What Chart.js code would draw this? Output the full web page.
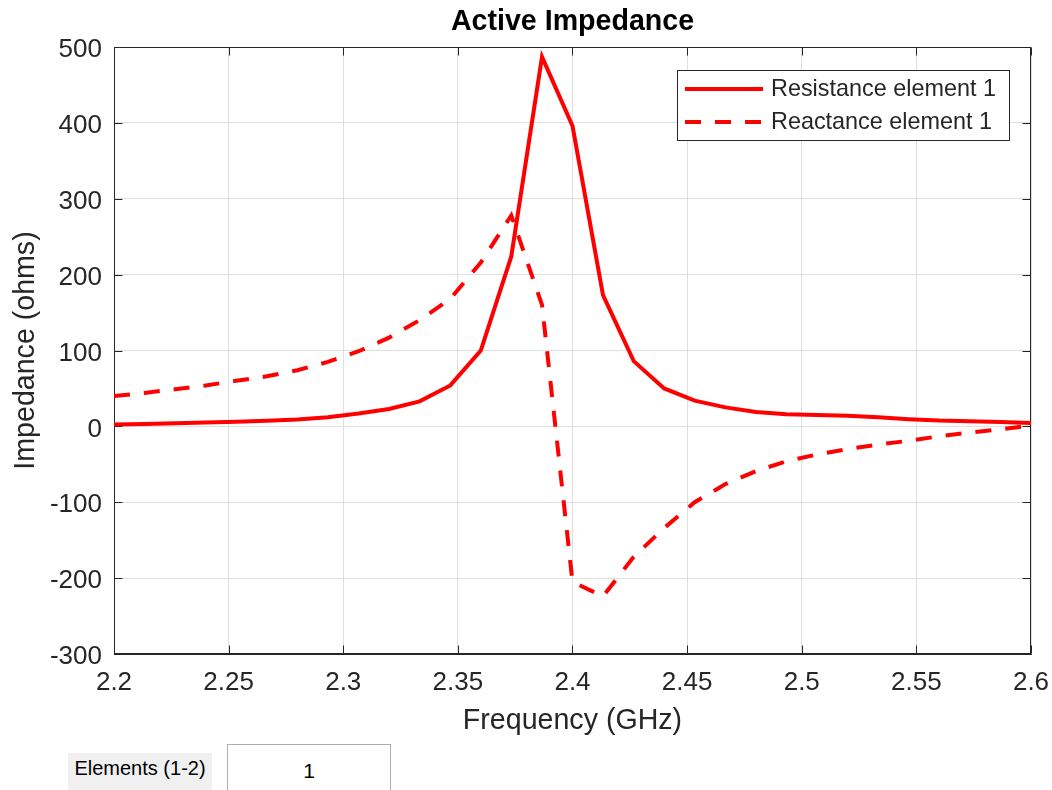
<!DOCTYPE html>
<html>
<head>
<meta charset="utf-8">
<title>Active Impedance</title>
<script src="https://cdn.jsdelivr.net/npm/chart.js@4.4.0/dist/chart.umd.min.js"></script>
<style>
  html, body { margin: 0; padding: 0; background: #fff; overflow: hidden; }
  #wrap { position: relative; width: 1052px; height: 790px; }
  #impedanceChart { position: absolute; left: 0; top: 0; }
  .elem-label {
    position: absolute; left: 68px; top: 753px; width: 144px; height: 37px;
    background: #f0f0f0; font: 20px 'Liberation Sans', Arial, sans-serif; color: #000;
    line-height: 30px; text-align: center; white-space: nowrap;
  }
  .elem-box {
    position: absolute; left: 227px; top: 744px; width: 162px; height: 60px;
    border: 1px solid #adadad; background: #fff;
    font: 21px 'Liberation Sans', Arial, sans-serif; color: #000;
    line-height: 52px; text-align: center;
  }
</style>
</head>
<body>
<div id="wrap">
  <canvas id="impedanceChart" width="1052" height="790"></canvas>
  <div class="elem-label">Elements (1-2)</div>
  <div class="elem-box">1</div>
</div>
<script>
// frequency samples (GHz)
const freqGHz = [2.2, 2.2133, 2.2267, 2.24, 2.2533, 2.2667, 2.28, 2.2933, 2.3067, 2.32,
                 2.3333, 2.3467, 2.36, 2.3733, 2.3867, 2.4, 2.4133, 2.4267, 2.44, 2.4533,
                 2.4667, 2.48, 2.4933, 2.5067, 2.52, 2.5333, 2.5467, 2.56, 2.5733, 2.5867, 2.6];

// ohms
const resistance = [2.5, 3.2, 4, 5, 6, 7.3, 9, 12, 17, 23,
                    33, 54, 100, 224, 487, 396, 173, 86, 50, 34,
                    25, 19, 16, 15, 14, 12, 9.5, 7.7, 6.8, 5.9, 4.6];
const reactance = [40, 44, 49, 54, 60, 66, 74, 85, 99, 117,
                   140, 168, 216, 278, 160, -205, -224, -172, -134, -100,
                   -76, -59, -46, -37, -30, -24, -19, -13, -8, -4, 1];

const xTicks = [2.2, 2.25, 2.3, 2.35, 2.4, 2.45, 2.5, 2.55, 2.6];
const yTicks = [-300, -200, -100, 0, 100, 200, 300, 400, 500];

const seriesLabels = ['Resistance element 1', 'Reactance element 1'];
const titleText = 'Active Impedance';

const FONT = "'Liberation Sans', Arial, Helvetica, sans-serif";
const TEXT = '#262626';
Chart.defaults.font.family = FONT;

// title, box, inward ticks and legend like a matlab axes
const matlabAxes = {
    id: 'matlabAxes',
    beforeDatasetsDraw(chart) {
        const { ctx, chartArea: a, scales } = chart;
        ctx.save();
        ctx.strokeStyle = TEXT;
        ctx.lineWidth = 1;
        const l = Math.round(a.left) + 0.5, r = Math.round(a.right) - 0.5;
        const t = Math.round(a.top) + 0.5, b = Math.round(a.bottom) - 0.5;
        ctx.strokeRect(l, t, r - l, b - t);
        ctx.beginPath();
        xTicks.forEach(v => {
            const px = Math.round(scales.x.getPixelForValue(v)) + 0.5;
            ctx.moveTo(px, b); ctx.lineTo(px, b - 8);
            ctx.moveTo(px, t); ctx.lineTo(px, t + 8);
        });
        yTicks.forEach(v => {
            const py = Math.round(scales.y.getPixelForValue(v)) + 0.5;
            ctx.moveTo(l, py); ctx.lineTo(l + 8, py);
            ctx.moveTo(r, py); ctx.lineTo(r - 8, py);
        });
        ctx.stroke();
        ctx.restore();
    },
    afterDraw(chart) {
        const { ctx, chartArea: a } = chart;
        ctx.save();
        // title
        ctx.fillStyle = '#000';
        ctx.font = 'bold 28.6px ' + FONT;
        ctx.textAlign = 'center';
        ctx.textBaseline = 'middle';
        ctx.fillText(titleText, (a.left + a.right) / 2, 22);

        // legend
        ctx.fillStyle = '#fff';
        ctx.fillRect(677.5, 70.5, 332, 70);
        ctx.strokeStyle = TEXT;
        ctx.lineWidth = 1;
        ctx.strokeRect(677.5, 70.5, 332, 70);
        ctx.font = '23.4px ' + FONT;
        ctx.textAlign = 'left';
        chart.data.datasets.forEach((ds, i) => {
            const y = 89 + i * 33;
            ctx.beginPath();
            ctx.strokeStyle = ds.borderColor;
            ctx.lineWidth = ds.borderWidth;
            ctx.setLineDash(ds.borderDash || []);
            ctx.moveTo(685, y);
            ctx.lineTo(763, y);
            ctx.stroke();
            ctx.setLineDash([]);
            ctx.fillStyle = TEXT;
            ctx.fillText(ds.label, 771, y + 1);
        });
        ctx.restore();
    }
};

const ctx = document.getElementById('impedanceChart').getContext('2d');
new Chart(ctx, {
    type: 'line',
    data: {
        datasets: [{
            label: seriesLabels[0],
            data: freqGHz.map((f, i) => ({ x: f, y: resistance[i] })),
            borderColor: '#ff0000',
            borderWidth: 4,
            pointRadius: 0,
            tension: 0
        }, {
            label: seriesLabels[1],
            data: freqGHz.map((f, i) => ({ x: f, y: reactance[i] })),
            borderColor: '#ff0000',
            borderWidth: 4,
            borderDash: [16, 14],
            pointRadius: 0,
            tension: 0
        }]
    },
    options: {
        responsive: false,
        animation: false,
        devicePixelRatio: 1,
        layout: { padding: { left: 0, right: 21, top: 47, bottom: 0 } },
        plugins: {
            legend: { display: false },
            tooltip: { enabled: false },
            title: { display: false }
        },
        scales: {
            x: {
                type: 'linear',
                min: 2.2,
                max: 2.6,
                afterBuildTicks: s => { s.ticks = xTicks.map(v => ({ value: v })); },
                afterFit: s => { s.height = 136; s.paddingLeft = 0; s.paddingRight = 0; },
                ticks: {
                    color: TEXT,
                    font: { size: 26 },
                    padding: 13,
                    maxRotation: 0,
                    autoSkip: false,
                    callback: v => String(v)
                },
                grid: { color: '#dfdfdf', drawTicks: false },
                border: { color: TEXT, width: 1 },
                title: {
                    display: true,
                    text: 'Frequency (GHz)',
                    color: TEXT,
                    font: { size: 28.6 },
                    padding: { top: 0, bottom: 52 }
                }
            },
            y: {
                min: -300,
                max: 500,
                afterBuildTicks: s => { s.ticks = yTicks.map(v => ({ value: v })); },
                afterFit: s => { s.width = 114; s.paddingTop = 0; s.paddingBottom = 0; },
                ticks: {
                    color: TEXT,
                    font: { size: 26 },
                    padding: 12,
                    labelOffset: 3,
                    autoSkip: false,
                    callback: v => String(v)
                },
                grid: { color: '#dfdfdf', drawTicks: false },
                border: { color: TEXT, width: 1 },
                title: {
                    display: true,
                    text: 'Impedance (ohms)',
                    color: TEXT,
                    font: { size: 28.6 },
                    padding: { top: 9, bottom: 0 }
                }
            }
        }
    },
    plugins: [matlabAxes]
});
</script>
</body>
</html>
